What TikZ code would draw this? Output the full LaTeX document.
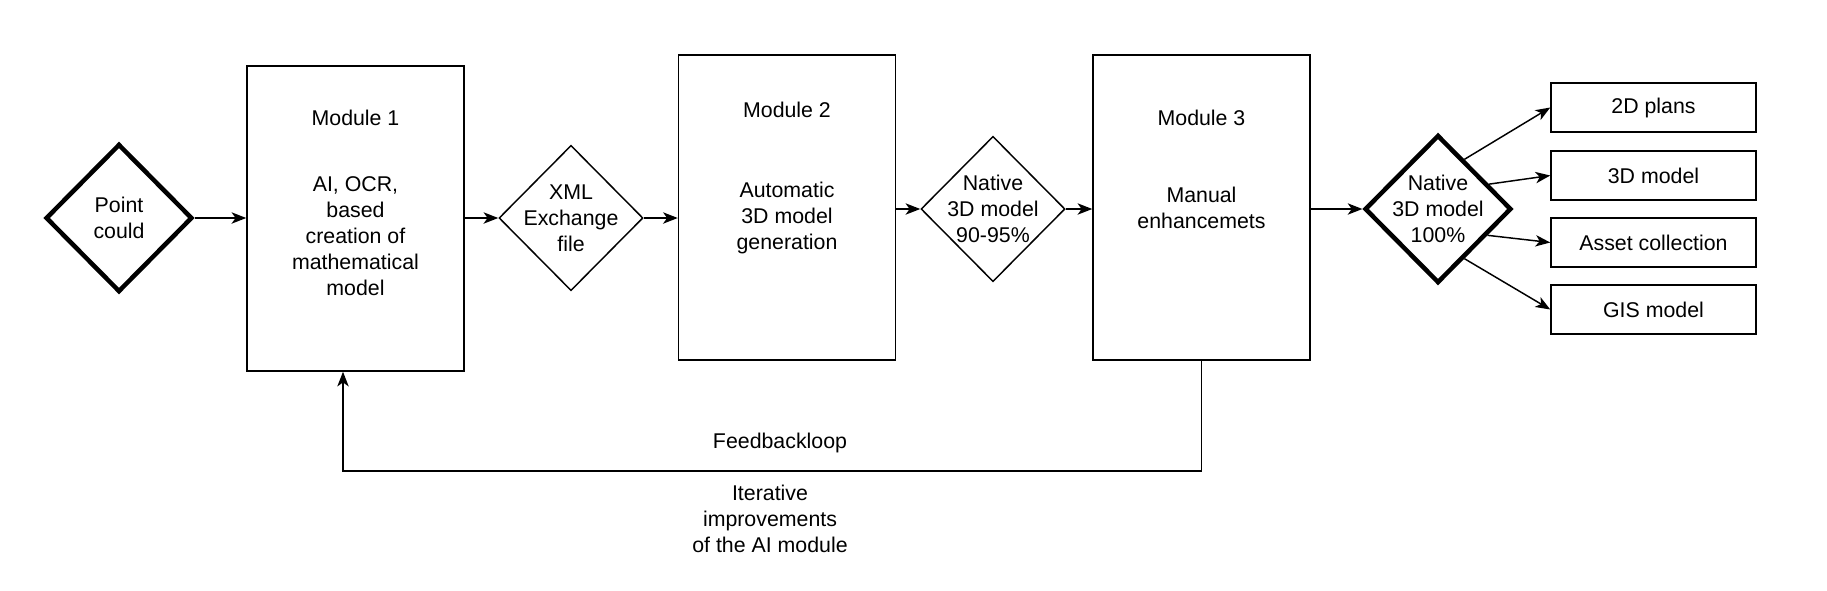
\documentclass[tikz,border=0pt]{standalone}
\usepackage{fontspec}
\setmainfont{Liberation Sans}
\usetikzlibrary{shapes.geometric,arrows.meta,calc}
\begin{document}
\begin{tikzpicture}[x=0.75pt,y=-0.75pt,
  every node/.style={font=\fontsize{16}{19.4}\selectfont},
  box/.style={draw, rectangle, line width=1.1pt, inner sep=0pt},
  bigbox/.style={box, minimum width=162.75pt, minimum height=228.75pt},
  outbox/.style={box, minimum width=153.75pt, minimum height=36.75pt},
  dia/.style={draw, diamond, inner sep=0pt, line width=1.1pt, minimum width=108pt, minimum height=109pt},
  thickdia/.style={dia, line width=3.4pt, minimum width=110pt, minimum height=111pt},
  txt/.style={align=center, inner sep=0pt},
  arr/.style={-{Stealth[length=11pt,width=8.5pt,inset=3pt]}, line width=1.1pt}]
\useasboundingbox (0,0) rectangle (1827,590);

% diamonds
\node[thickdia] (pc) at (119,218) {};
\node[txt] (pct) at (pc.center) {Point\\could};
\node[dia] (xml) at (571,218) {};
\node[txt] (xmlt) at (xml.center) {XML\\Exchange\\file};
\node[dia] (n1) at (993,209) {};
\node[txt] (n1t) at (n1.center) {Native\\3D model\\90-95\%};
\node[thickdia] (n2) at (1438,209) {};
\node[txt] (n2t) at (n2.center) {Native\\3D model\\100\%};

% modules
\node[bigbox] (m1) at (355.5,218.5) {};
\node[txt] (m1h) at (355.5,118) {Module 1};
\node[txt] (m1b) at (355.5,236) {AI, OCR,\\based\\creation of\\mathematical\\model};
\node[bigbox] (m2) at (787,207.5) {};
\node[txt] (m2h) at (787,110) {Module 2};
\node[txt] (m2b) at (787,218) {Automatic\\3D model\\generation};
\node[bigbox] (m3) at (1201.5,207.5) {};
\node[txt] (m3h) at (1201.5,118) {Module 3};
\node[txt] (m3b) at (1201.5,208) {Manual\\enhancemets};

% outputs
\node[outbox] (o1) at (1653.5,107.5) {2D plans};
\node[outbox] (o2) at (1653.5,175.5) {3D model};
\node[outbox] (o3) at (1653.5,242.5) {Asset collection};
\node[outbox] (o4) at (1653.5,309.5) {GIS model};

% main flow
\draw[arr] (pc.east) -- (pc.east -| m1.west);
\draw[arr] (xml.west -| m1.east) -- (xml.west);
\draw[arr] (xml.east) -- (xml.east -| m2.west);
\draw[arr] (n1.west -| m2.east) -- (n1.west);
\draw[arr] (n1.east) -- (n1.east -| m3.west);
\draw[arr] (n2.west -| m3.east) -- (n2.west);

% outputs
\draw[arr] (n2.62) -- (o1.west);
\draw[arr] (n2.26) -- (o2.west);
\draw[arr] (n2.-28) -- (o3.west);
\draw[arr] (n2.-62) -- (o4.west);

% feedback
\coordinate (fbL) at (343,471);
\draw[arr] (m3.south) |- (fbL) -- (fbL |- m1.south);
\node[txt] (fbt) at (780,443) {Feedbackloop};
\node[txt] (itt) at (770,519) {Iterative\\improvements\\of the AI module};
\end{tikzpicture}
\end{document}
